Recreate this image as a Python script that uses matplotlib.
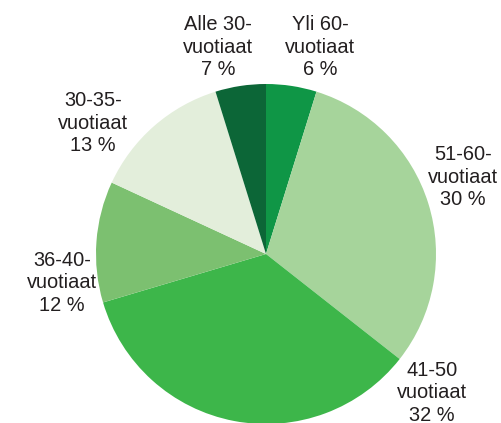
import matplotlib
matplotlib.use("Agg")
import matplotlib.pyplot as plt

plt.rcParams["font.family"] = ["Liberation Sans", "DejaVu Sans"]

# ikäryhmät myötäpäivään ylhäältä alkaen
labels = ["Yli 60-\nvuotiaat", "51-60-\nvuotiaat", "41-50\nvuotiaat",
          "36-40-\nvuotiaat", "30-35-\nvuotiaat", "Alle 30-\nvuotiaat"]
pct_text = [6, 30, 32, 12, 13, 7]             # tekstissä näkyvät osuudet
slice_size = [4.8, 30.8, 34.8, 11.5, 13.3, 4.8]  # kuvasta luetut sektorien koot
colors = ["#0f9646", "#a6d49b", "#3db64a", "#7cc070", "#e3eedb", "#0c6637"]
# tekstien paikat (pikseleinä, y ylhäältä)
label_pos = [(320, 47), (463, 177), (432, 393), (62, 283), (93, 123), (218, 47)]

W, H = 502, 423
fig = plt.figure(figsize=(W/100, H/100), dpi=100)
ax = fig.add_axes([0, 0, 1, 1])

ax.pie(slice_size, colors=colors, startangle=90, counterclock=False,
       center=(266, H-254), radius=170, frame=True,
       wedgeprops=dict(linewidth=0))
ax.set_xlim(0, W); ax.set_ylim(0, H)
ax.set_aspect("equal")
ax.axis("off")

for lab, v, (x, y) in zip(labels, pct_text, label_pos):
    ax.text(x, H-y, f"{lab}\n{v} %", ha="center", va="center",
            fontsize=14.4, color="#231f20", linespacing=1.22)

fig.savefig("out.png", dpi=100)
